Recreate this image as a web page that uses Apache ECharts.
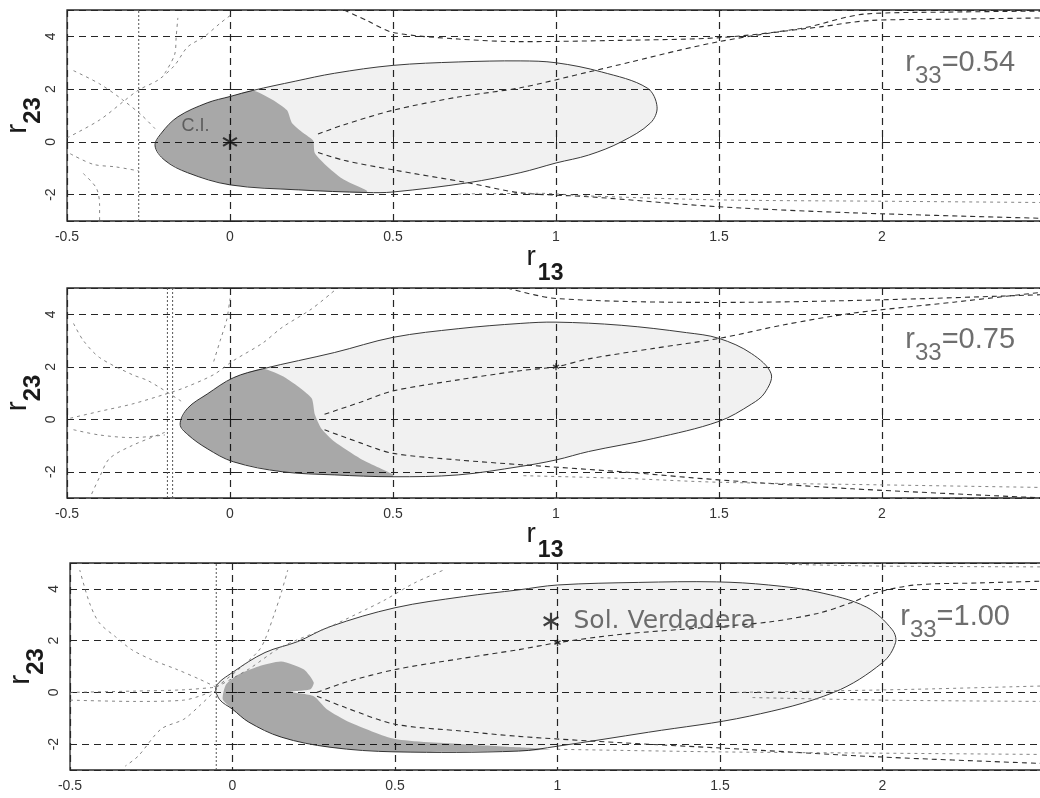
<!DOCTYPE html>
<html>
<head>
<meta charset="utf-8">
<script src="https://cdn.jsdelivr.net/npm/echarts@6.0.0/dist/echarts.min.js"></script>
<style>
html,body{margin:0;padding:0;background:#ffffff;}
#chart{width:1040px;height:798px;}
</style>
</head>
<body>
<div id="chart"></div>
<script>
// ---------- tick labels / texts ----------
const xTickLabels = [-0.5, 0, 0.5, 1, 1.5, 2];
const yTickLabels = [-2, 0, 2, 4];
const r33Values = ['0.54', '0.75', '1.00'];
const r33LabelPos = [[2.07, 2.80], [2.07, 2.80], [2.053, 2.71]];
const ciLabelPos = [[-0.15, 0.6]];

// ---------- panel 1 (r33 = 0.54) ----------
const p1Outline = [[-0.23,-0.15],[-0.21,0.34],[-0.16,0.95],[-0.07,1.48],[0.0,1.72],[0.07,1.95],[0.2,2.3],[0.32,2.6],[0.5,2.9],[0.7,3.03],[0.89,3.07],[1.0,3.0],[1.14,2.65],[1.28,2.04],[1.31,1.33],[1.29,0.72],[1.2,0.0],[1.1,-0.5],[1.0,-0.8],[0.89,-1.17],[0.73,-1.55],[0.5,-1.9],[0.42,-1.92],[0.21,-1.82],[0.0,-1.63],[-0.13,-1.17],[-0.2,-0.7]];
const p1Shaded = [[-0.23,-0.15],[-0.21,0.34],[-0.16,0.95],[-0.07,1.48],[0.0,1.72],[0.07,1.95],[0.13,1.6],[0.175,1.2],[0.19,0.72],[0.225,0.34],[0.255,0.05],[0.26,-0.42],[0.3,-0.95],[0.35,-1.44],[0.42,-1.85],[0.42,-1.92],[0.21,-1.82],[0.0,-1.63],[-0.13,-1.17],[-0.2,-0.7]];
const p1DashUp = [[0.27,0.3],[0.35,0.65],[0.5,1.2],[0.7,1.7],[0.89,2.05],[1.1,2.65],[1.23,3.03],[1.38,3.48],[1.5,3.8],[1.66,4.13],[1.81,4.36],[1.96,4.6],[2.2,4.65],[2.5,4.7]];
const p1DashTop = [[0.35,5.0],[0.42,4.6],[0.5,4.15],[0.7,3.9],[0.89,3.8],[1.2,3.85],[1.5,3.95],[1.75,4.3],[1.95,4.85],[2.2,4.92],[2.5,4.96]];
const p1DashLow = [[0.27,-0.4],[0.35,-0.7],[0.5,-1.06],[0.73,-1.55],[0.89,-1.93],[1.1,-2.08],[1.5,-2.46],[1.91,-2.69],[2.5,-2.9]];
const p1DashLow2 = [[0.7,-1.98],[0.95,-1.95],[1.1,-2.05],[1.5,-2.2],[2.0,-2.25],[2.5,-2.3]];
const p1Vertical = [[-0.28,-3],[-0.28,5]];
const p1Faint1 = [[-0.5,0.15],[-0.4,0.83],[-0.32,1.6],[-0.28,1.97],[-0.22,2.35],[-0.17,2.9],[-0.13,3.6],[-0.08,3.98],[-0.03,4.5],[0.01,4.88]];
const p1Faint2 = [[-0.48,2.7],[-0.4,2.2],[-0.33,1.6],[-0.27,1.0],[-0.23,0.5]];
const p1Faint3 = [[-0.49,-0.45],[-0.42,-0.85],[-0.35,-0.95],[-0.28,-1.1]];
const p1Faint4 = [[-0.45,-1.2],[-0.41,-1.75],[-0.4,-2.4],[-0.4,-3.0]];
const p1Faint5 = [[-0.2,2.6],[-0.17,3.3],[-0.165,4.0],[-0.16,4.7]];
const p1Star = [[0, 0]];

// ---------- panel 2 (r33 = 0.75) ----------
const p2Outline = [[-0.153,-0.19],[-0.13,0.42],[-0.07,0.96],[0.01,1.58],[0.1,1.92],[0.32,2.54],[0.5,3.12],[0.7,3.45],[0.89,3.65],[1.0,3.7],[1.2,3.58],[1.4,3.3],[1.5,3.08],[1.6,2.5],[1.66,1.73],[1.64,1.0],[1.6,0.58],[1.5,-0.08],[1.3,-0.73],[1.1,-1.23],[1.0,-1.55],[0.89,-1.8],[0.7,-2.12],[0.5,-2.19],[0.32,-2.12],[0.16,-2.0],[0.01,-1.62],[-0.07,-1.12],[-0.13,-0.58]];
const p2Shaded = [[-0.153,-0.19],[-0.13,0.42],[-0.07,0.96],[0.01,1.58],[0.1,1.92],[0.17,1.58],[0.25,0.81],[0.26,0.19],[0.28,-0.35],[0.32,-0.85],[0.4,-1.5],[0.5,-2.1],[0.5,-2.19],[0.32,-2.12],[0.16,-2.0],[0.01,-1.62],[-0.07,-1.12],[-0.13,-0.58]];
const p2DashUp = [[0.29,0.19],[0.4,0.65],[0.5,1.08],[0.7,1.5],[0.89,1.85],[1.0,2.0],[1.1,2.3],[1.3,2.7],[1.5,3.08],[1.7,3.6],[1.91,4.04],[2.22,4.46],[2.5,4.85]];
const p2DashTop = [[0.85,5.0],[1.0,4.6],[1.5,4.45],[2.0,4.55],[2.5,4.75]];
const p2DashLow = [[0.29,-0.4],[0.4,-0.9],[0.5,-1.3],[0.7,-1.55],[0.89,-1.73],[1.2,-2.0],[1.5,-2.31],[1.91,-2.65],[2.5,-3.0]];
const p2DashLow2 = [[0.9,-2.15],[1.2,-2.25],[1.5,-2.4],[2.0,-2.5],[2.5,-2.6]];
const p2VerticalA = [[-0.192,-3],[-0.192,5]];
const p2VerticalB = [[-0.176,-3],[-0.176,5]];
const p2Faint1 = [[-0.49,0.04],[-0.4,0.3],[-0.3,0.58],[-0.2,0.95],[-0.14,1.2],[-0.05,1.7],[0.01,2.23],[0.1,2.9],[0.16,3.5],[0.25,4.2],[0.32,4.9]];
const p2Faint2 = [[-0.48,3.65],[-0.45,3.0],[-0.4,2.35],[-0.3,1.7],[-0.25,1.46],[-0.15,0.69]];
const p2Faint3 = [[-0.48,-0.4],[-0.4,-0.6],[-0.3,-0.7],[-0.2,-0.6]];
const p2Faint4 = [[-0.2,-0.5],[-0.3,-1.0],[-0.37,-1.5],[-0.4,-2.2],[-0.43,-3.0]];
const p2Faint5 = [[-0.05,2.2],[-0.03,3.0],[-0.01,3.8],[0.0,4.6]];
const p2Dot = [[1.0, 2.0]];

// ---------- panel 3 (r33 = 1.00) ----------
const p3Outline = [[-0.05,0.23],[0.0,0.77],[0.1,1.54],[0.2,1.96],[0.3,2.54],[0.5,3.27],[0.71,3.7],[0.88,3.96],[1.0,4.15],[1.25,4.25],[1.49,4.27],[1.65,4.15],[1.8,3.88],[1.95,3.3],[2.03,2.42],[2.04,1.92],[2.0,1.15],[1.85,0.0],[1.59,-0.92],[1.28,-1.54],[1.0,-2.08],[0.88,-2.27],[0.5,-2.3],[0.3,-2.12],[0.15,-1.73],[0.05,-1.15],[0.0,-0.65],[-0.04,-0.27]];
const p3Shaded = [[-0.02,0.3],[0.02,0.7],[0.08,1.0],[0.15,1.19],[0.22,0.88],[0.25,0.38],[0.24,0.12],[0.18,0.02],[0.25,-0.15],[0.29,-0.65],[0.36,-1.15],[0.5,-1.8],[0.71,-2.0],[0.88,-2.12],[0.98,-2.2],[0.88,-2.27],[0.5,-2.3],[0.3,-2.12],[0.15,-1.73],[0.05,-1.15],[0.0,-0.65],[-0.03,-0.27]];
const p3DashUp = [[0.26,0.0],[0.35,0.4],[0.5,0.88],[0.7,1.3],[0.88,1.65],[1.0,1.92],[1.2,2.25],[1.45,2.5],[1.65,2.72],[1.8,3.05],[1.9,3.45],[1.98,3.85],[2.1,4.15],[2.3,4.23],[2.5,4.3]];
const p3DashLow = [[0.26,-0.15],[0.35,-0.6],[0.5,-1.23],[0.71,-1.5],[0.88,-1.7],[1.2,-1.95],[1.5,-2.15],[2.0,-2.5],[2.5,-2.75]];
const p3DashLow2 = [[1.0,-2.2],[1.5,-2.3],[2.0,-2.35],[2.5,-2.4]];
const p3DashMidA = [[1.55,0.0],[1.8,0.05],[2.1,0.12],[2.5,0.25]];
const p3DashMidB = [[1.6,-0.2],[2.0,-0.3],[2.5,-0.35]];
const p3DashTop = [[1.7,4.95],[2.0,4.88],[2.5,4.85]];
const p3Vertical = [[-0.05,-3],[-0.05,5]];
const p3Fan1 = [[-0.05,0.2],[-0.1,0.5],[-0.17,0.88],[-0.25,1.27],[-0.31,1.65],[-0.36,2.15],[-0.41,2.69],[-0.44,3.46],[-0.47,4.73]];
const p3Fan2 = [[-0.05,0.2],[0.02,0.9],[0.08,1.6],[0.1,2.04],[0.13,3.08],[0.15,3.85],[0.17,4.73]];
const p3Fan3 = [[-0.05,0.2],[0.05,0.9],[0.15,1.75],[0.3,2.54],[0.41,3.2],[0.47,3.58],[0.56,4.23],[0.65,4.73]];
const p3Fan4 = [[-0.5,0.0],[-0.3,0.05],[-0.15,0.1],[-0.05,0.2]];
const p3Fan5 = [[-0.5,-0.3],[-0.3,-0.35],[-0.15,-0.3],[-0.05,0.1]];
const p3Fan6 = [[-0.05,0.1],[-0.1,-0.5],[-0.15,-1.04],[-0.22,-1.42],[-0.29,-2.46],[-0.33,-2.85]];
const p3Star = [[0.98, 2.75]];
const p3Dot = [[1.0, 1.92]];

// ---------- styles ----------
const LIGHT_FILL = 'rgba(0,0,0,0.055)';
const DARK_FILL = 'rgba(0,0,0,0.30)';
const OUTLINE = '#3a3a3a';
const DASH_MAIN = '#2e2e2e';
const DASH_FAINT = '#777777';
const TEXT = '#4a4a4a';
const ASTERISK = 'path://M10,0L10,20M1.34,5L18.66,15M1.34,15L18.66,5';

const grids = [
  {left: 67, top: 10, width: 978, height: 211},
  {left: 67, top: 288, width: 978, height: 210},
  {left: 70, top: 563, width: 975, height: 207}
].map(g => Object.assign(g, {show: true, containLabel: false, outerBoundsMode: 'none',
  borderColor: '#2a2a2a', borderWidth: 1.3, backgroundColor: 'transparent'}));

const near = (v, arr) => arr.some(a => Math.abs(a - v) < 1e-6);

const nameRich = {
  r: {fontSize: 28, fontFamily: 'Liberation Sans', color: '#1a1a1a', verticalAlign: 'top'},
  s: {fontSize: 23, fontWeight: 'bold', fontFamily: 'Liberation Sans', color: '#1a1a1a', verticalAlign: 'bottom', padding: [19, 0, 0, 2]}
};
const yNameRich = {
  r: {fontSize: 30, fontFamily: 'Liberation Sans', color: '#1a1a1a', verticalAlign: 'top'},
  s: {fontSize: 24, fontWeight: 'bold', fontFamily: 'Liberation Sans', color: '#1a1a1a', verticalAlign: 'bottom', padding: [18, 0, 0, 0]}
};

const xAxes = grids.map((g, i) => ({
  gridIndex: i, type: 'value', min: -0.5, max: 2.5, interval: 0.5,
  axisLine: {show: false},
  axisTick: {show: true, inside: true, length: 5, lineStyle: {color: '#222'}},
  axisLabel: {margin: 9, fontSize: 14, color: '#333', fontFamily: 'Liberation Sans',
    formatter: v => near(v, xTickLabels) ? String(v) : ''},
  splitLine: {show: true, lineStyle: {color: '#262626', width: 1.2, type: [7, 5]}},
  name: i < 2 ? '{r|r}{s|13}' : '',
  nameLocation: 'middle', nameGap: 22, nameMoveOverlap: false,
  nameTextStyle: {rich: nameRich, padding: [0, 22, 0, 0]}
}));

const yAxes = grids.map((g, i) => ({
  gridIndex: i, type: 'value', min: -3, max: 5,
  axisLine: {show: false},
  axisTick: {show: true, inside: true, length: 5, lineStyle: {color: '#222'}},
  axisLabel: {margin: 9, fontSize: 14, color: '#333', fontFamily: 'Liberation Sans', rotate: 90,
    formatter: v => near(v, yTickLabels) ? String(v) : ''},
  splitLine: {show: true, lineStyle: {color: '#262626', width: 1.2, type: [7, 5]}},
  name: '{r|r}{s|23}', nameLocation: 'middle', nameRotate: 90, nameGap: 22, nameMoveOverlap: false,
  nameTextStyle: {rich: yNameRich}
}));

function polygon(gi, pts, fill, stroke, smooth) {
  return {
    type: 'custom', xAxisIndex: gi, yAxisIndex: gi, data: pts, silent: true, clip: true, z: 1,
    renderItem: (params, api) => {
      if (params.dataIndex !== 0) return null;
      return {
        type: 'polygon',
        shape: {points: pts.map(p => api.coord(p)), smooth: smooth},
        style: {fill: fill, stroke: stroke || 'none', lineWidth: 1}
      };
    }
  };
}
function dashed(gi, pts, color, width, dash, smooth) {
  return {
    type: 'line', xAxisIndex: gi, yAxisIndex: gi, data: pts, symbol: 'none', showSymbol: false,
    smooth: smooth === undefined ? 0.3 : smooth, silent: true, z: 3, clip: true,
    lineStyle: {color: color, width: width, type: dash}
  };
}
const main = (gi, pts) => dashed(gi, pts, DASH_MAIN, 1.1, [5, 4]);
const faint = (gi, pts) => dashed(gi, pts, DASH_FAINT, 0.9, [3, 4]);
const vert = (gi, pts) => dashed(gi, pts, '#555', 1, [2, 2], 0);

function textPoint(gi, pts, formatter, rich, extra) {
  return Object.assign({
    type: 'scatter', xAxisIndex: gi, yAxisIndex: gi, data: pts, symbolSize: 1, silent: true, z: 6,
    itemStyle: {color: 'rgba(0,0,0,0)'},
    label: {show: true, position: 'right', distance: 0, formatter: formatter, rich: rich}
  }, extra || {});
}
const r33Rich = {
  r: {fontSize: 29, fontFamily: 'Liberation Sans', color: TEXT, verticalAlign: 'top'},
  s: {fontSize: 24, fontFamily: 'Liberation Sans', color: TEXT, verticalAlign: 'bottom', padding: [16, 0, 0, 0]},
  t: {fontSize: 29, fontFamily: 'Liberation Sans', color: TEXT, verticalAlign: 'top'}
};
function starPoint(gi, pts, size, labelText, labelSize) {
  return {
    type: 'scatter', xAxisIndex: gi, yAxisIndex: gi, data: pts, symbol: ASTERISK, symbolSize: size,
    symbolKeepAspect: true, silent: true, z: 7,
    itemStyle: {color: 'rgba(0,0,0,0)', borderColor: '#111', borderWidth: size > 10 ? 2.2 : 1.4},
    label: labelText ? {show: true, position: 'right', distance: 14, formatter: labelText,
      fontSize: labelSize, color: TEXT, fontFamily: 'DejaVu Sans'} : {show: false}
  };
}

const series = [
  // panel 1
  polygon(0, p1Outline, LIGHT_FILL, OUTLINE, 0.35),
  polygon(0, p1Shaded, DARK_FILL, null, 0.2),
  main(0, p1DashUp), main(0, p1DashTop), main(0, p1DashLow), faint(0, p1DashLow2),
  vert(0, p1Vertical),
  faint(0, p1Faint1), faint(0, p1Faint2), faint(0, p1Faint3), faint(0, p1Faint4), faint(0, p1Faint5),
  starPoint(0, p1Star, 16),
  textPoint(0, ciLabelPos, 'C.I.', {}, {label: {show: true, position: 'right', distance: 0, formatter: 'C.I.', fontSize: 18, color: TEXT, fontFamily: 'Liberation Sans'}}),
  textPoint(0, [r33LabelPos[0]], '{r|r}{s|33}{t|=' + r33Values[0] + '}', r33Rich),
  // panel 2
  polygon(1, p2Outline, LIGHT_FILL, OUTLINE, 0.35),
  polygon(1, p2Shaded, DARK_FILL, null, 0.2),
  main(1, p2DashUp), main(1, p2DashTop), main(1, p2DashLow), faint(1, p2DashLow2),
  vert(1, p2VerticalA), vert(1, p2VerticalB),
  faint(1, p2Faint1), faint(1, p2Faint2), faint(1, p2Faint3), faint(1, p2Faint4), faint(1, p2Faint5),
  starPoint(1, p2Dot, 7),
  textPoint(1, [r33LabelPos[1]], '{r|r}{s|33}{t|=' + r33Values[1] + '}', r33Rich),
  // panel 3
  polygon(2, p3Outline, LIGHT_FILL, OUTLINE, 0.35),
  polygon(2, p3Shaded, DARK_FILL, null, 0.2),
  main(2, p3DashUp), main(2, p3DashLow), faint(2, p3DashLow2), faint(2, p3DashMidA), faint(2, p3DashMidB), faint(2, p3DashTop),
  vert(2, p3Vertical),
  faint(2, p3Fan1), faint(2, p3Fan2), faint(2, p3Fan3), faint(2, p3Fan4), faint(2, p3Fan5), faint(2, p3Fan6),
  starPoint(2, p3Dot, 7),
  starPoint(2, p3Star, 17, 'Sol. Verdadera', 25),
  textPoint(2, [r33LabelPos[2]], '{r|r}{s|33}{t|=' + r33Values[2] + '}', r33Rich)
];

const chart = echarts.init(document.getElementById('chart'), null, {renderer: 'canvas'});
chart.setOption({
  animation: false,
  backgroundColor: '#ffffff',
  grid: grids,
  xAxis: xAxes,
  yAxis: yAxes,
  series: series
});
</script>
</body>
</html>
